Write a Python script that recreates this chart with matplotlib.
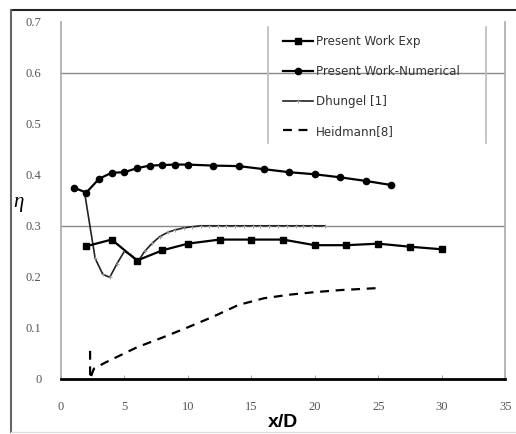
import matplotlib.pyplot as plt
from matplotlib.lines import Line2D

# Present Work Exp
exp_x = [2, 4, 6, 8, 10, 12.5, 15, 17.5, 20, 22.5, 25, 27.5, 30]
exp_y = [0.26, 0.273, 0.232, 0.252, 0.265, 0.273, 0.273, 0.273, 0.262, 0.262, 0.265, 0.259, 0.254]

# Present Work-Numerical
num_x = [1, 2, 3, 4, 5, 6, 7, 8, 9, 10, 12, 14, 16, 18, 20, 22, 24, 26]
num_y = [0.375, 0.365, 0.392, 0.404, 0.405, 0.413, 0.418, 0.419, 0.420, 0.420,
         0.418, 0.417, 0.411, 0.405, 0.401, 0.395, 0.388, 0.380]

# Dhungel [1]
dh_x = [1.9, 2.7, 3.3, 3.85, 4.4, 5.0, 5.5, 6.1, 6.6, 7.2, 7.8, 8.4, 9.0, 9.7,
        10.3, 11.0, 11.7, 12.4, 13.0, 13.7, 14.4, 15.1, 15.7, 16.4, 17.1, 17.8,
        18.5, 19.1, 19.8, 20.8]
dh_y = [0.36, 0.236, 0.205, 0.199, 0.225, 0.25, 0.243, 0.231, 0.25, 0.266, 0.279,
        0.287, 0.292, 0.296, 0.298, 0.300, 0.300, 0.300, 0.300, 0.300, 0.300,
        0.300, 0.300, 0.300, 0.300, 0.300, 0.300, 0.300, 0.300, 0.300]

# Heidmann[8]
hd_x = [2.3, 2.3, 2.6, 3.5, 5, 6, 8, 10, 12, 14, 16, 18, 20, 22, 25]
hd_y = [0.055, 0.0, 0.02, 0.032, 0.05, 0.062, 0.081, 0.101, 0.122, 0.145,
        0.158, 0.165, 0.17, 0.174, 0.178]

x_ticks = [0, 5, 10, 15, 20, 25, 30, 35]
y_ticks = [0, 0.1, 0.2, 0.3, 0.4, 0.5, 0.6, 0.7]
y_ticklabels = ['0', '0.1', '0.2', '0.3', '0.4', '0.5', '0.6', '0.7']

fig = plt.figure(figsize=(5.16, 4.34), dpi=100)
ax = fig.add_axes([0.118, 0.127, 0.861, 0.823])

for yg in [0.3, 0.6]:
    ax.axhline(yg, color='#888888', lw=1.0, zorder=1)

ax.plot(exp_x, exp_y, color='black', lw=1.6, marker='s', ms=5, label='Present Work Exp', zorder=3)
ax.plot(num_x, num_y, color='black', lw=1.6, marker='o', ms=4.5, label='Present Work-Numerical', zorder=3)
ax.plot(dh_x, dh_y, color='#222222', lw=1.2, marker='+', ms=3, mew=0.6, mec='#999999',
        label='Dhungel [1]', zorder=2)
ax.plot(hd_x, hd_y, color='black', lw=1.6, ls=(0, (4, 3)), label='Heidmann[8]', zorder=2)

ax.set_xlim(0, 35)
ax.set_ylim(0, 0.7)
ax.set_xticks(x_ticks)
ax.set_yticks(y_ticks)
ax.set_yticklabels(y_ticklabels)
for lbl in ax.get_xticklabels() + ax.get_yticklabels():
    lbl.set_fontfamily('Liberation Serif')
    lbl.set_fontsize(9)
    lbl.set_color('#555555')
ax.tick_params(axis='x', direction='in', length=3, color='#aaaaaa', pad=16)
ax.tick_params(axis='y', length=0, pad=14)

ax.spines['top'].set_visible(False)
ax.spines['left'].set_color('#aaaaaa')
ax.spines['right'].set_color('#aaaaaa')
ax.spines['left'].set_linewidth(1.2)
ax.spines['right'].set_linewidth(1.2)
ax.spines['bottom'].set_color('black')
ax.spines['bottom'].set_linewidth(2)

leg = ax.legend(loc='upper left', bbox_to_anchor=(0.49, 0.975), frameon=False,
                fontsize=8.6, handlelength=2.5, handletextpad=0.2, labelspacing=1.4,
                borderaxespad=0)
for t in leg.get_texts():
    t.set_color('#333333')

# legend side lines
for xl in [268, 486]:
    fig.add_artist(Line2D([xl / 516, xl / 516], [1 - 27 / 434, 1 - 143 / 434],
                          color='#bbbbbb', lw=1.2))

# outer frame
fig.add_artist(Line2D([11 / 516, 1.0], [1 - 10 / 434, 1 - 10 / 434], color='#222222', lw=1.5))
fig.add_artist(Line2D([11 / 516, 11 / 516], [1 - 10 / 434, 1 - 432 / 434], color='#666666', lw=1.5))
fig.add_artist(Line2D([11 / 516, 1.0], [1 - 432 / 434, 1 - 432 / 434], color='#dddddd', lw=1.0))

fig.text(18 / 516, 1 - 203 / 434, 'η', fontsize=15, fontfamily='Liberation Serif',
         fontstyle='italic', ha='center', va='center')
fig.text(283 / 516, 1 - 414 / 434, 'x/D', fontsize=14, fontfamily='Liberation Sans',
         fontweight='bold', ha='center', va='top')

fig.savefig('out.png', dpi=100)
